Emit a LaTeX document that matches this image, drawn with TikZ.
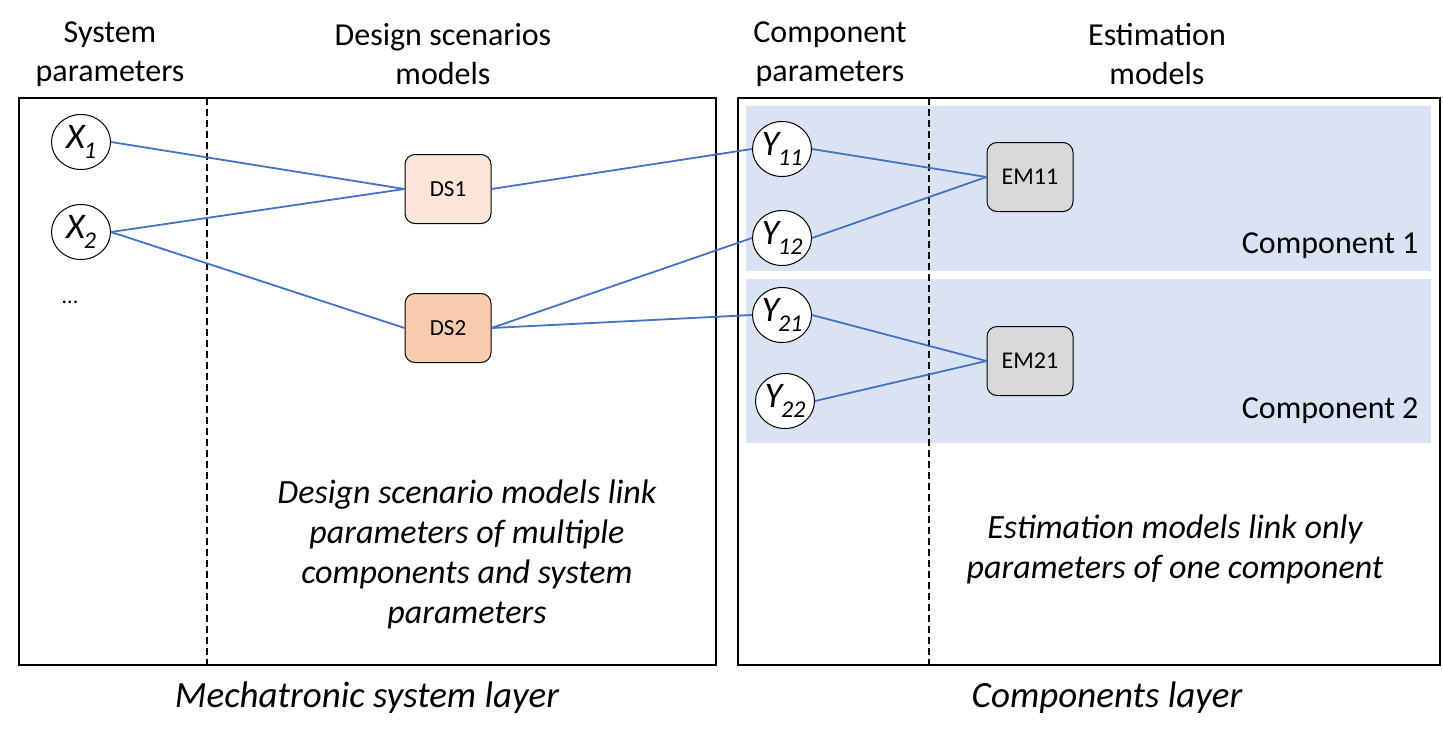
\documentclass[tikz,border=0pt]{standalone}
\usepackage{fontspec}
\setmainfont{Carlito}
\usetikzlibrary{shapes.geometric}
\definecolor{conn}{HTML}{4472C4}
\definecolor{compfill}{HTML}{DAE3F3}
\definecolor{dsa}{HTML}{FBE5D6}
\definecolor{dsb}{HTML}{F8CBAD}
\definecolor{emfill}{HTML}{D9D9D9}
\newcommand\pvar[2]{\fontsize{36}{36}\selectfont\itshape #1\kern-1pt\raisebox{-10pt}{\fontsize{24}{24}\selectfont\itshape #2}}
\begin{document}
\begin{tikzpicture}[x=1pt,y=-1pt,
  param/.style={ellipse, draw, fill=white, line width=1pt, minimum width=59pt, minimum height=55pt, inner sep=-6pt},
  modelbox/.style={rounded corners=10pt, draw, line width=1pt, minimum width=86pt, minimum height=69pt},
  dsfont/.style={font=\fontsize{23}{26}\selectfont},
  emfont/.style={font=\fontsize{24}{27}\selectfont},
  link/.style={conn, line width=1.8pt},
  layerbox/.style={draw, line width=1.5pt},
  sep/.style={draw, line width=1.8pt, dash pattern=on 7pt off 4pt},
  header/.style={align=center, font=\fontsize{32}{39}\selectfont},
  note/.style={align=center, font=\fontsize{34}{40}\selectfont\itshape},
  layerlabel/.style={font=\fontsize{37}{40}\selectfont\itshape},
  complabel/.style={font=\fontsize{32}{38}\selectfont, anchor=east}
]
\useasboundingbox (0,0) rectangle (1443,742);
% layer boxes
\path[layerbox] (19,98) rectangle (716,665);
\path[layerbox] (738,98) rectangle (1440,665);
% component areas
\fill[compfill] (746,106) rectangle (1431,271);
\fill[compfill] (746,279) rectangle (1431,443);
% separators
\coordinate (s1t) at (207,98); \coordinate (s1b) at (207,665);
\coordinate (s2t) at (929,98); \coordinate (s2b) at (929,665);
\path[sep] (s1t) -- (s1b);
\path[sep] (s2t) -- (s2b);
% headers
\node[header] (h1) at (110,54) {System\\parameters};
\node[header] (h2) at (443,54) {Design scenarios\\models};
\node[header] (h3) at (830,54) {Component\\parameters};
\node[header] (h4) at (1157,54) {Estimation\\models};
% nodes
\node[param] (x1) at (81,142) {\pvar{X}{1}};
\node[param] (x2) at (81,232) {\pvar{X}{2}};
\node[font=\fontsize{22}{22}\selectfont] (dots) at (70,302) {...};
\node[modelbox, fill=dsa, dsfont] (ds1) at (448,189) {DS1};
\node[modelbox, fill=dsb, dsfont] (ds2) at (448,328) {DS2};
\node[param] (y11) at (782,149) {\pvar{Y}{11}};
\node[param] (y12) at (782,238) {\pvar{Y}{12}};
\node[param] (y21) at (782,315) {\pvar{Y}{21}};
\node[param] (y22) at (785,401) {\pvar{Y}{22}};
\node[modelbox, fill=emfill, emfont] (em11) at (1030,177) {EM11};
\node[modelbox, fill=emfill, emfont] (em21) at (1030,361) {EM21};
\node[complabel] (c1) at (1422,246) {Component 1};
\node[complabel] (c2) at (1422,411) {Component 2};
% links
\draw[link] (x1.east) -- (ds1.west);
\draw[link] (x2.east) -- (ds1.west);
\draw[link] (x2.east) -- (ds2.west);
\draw[link] (ds1.east) -- (y11.west);
\draw[link] (ds2.east) -- (y12.west);
\draw[link] (ds2.east) -- (y21.west);
\draw[link] (y11.east) -- (em11.west);
\draw[link] (y12.east) -- (em11.west);
\draw[link] (y21.east) -- (em21.west);
\draw[link] (y22.east) -- (em21.west);
% notes
\node[note] (n1) at (467,554) {Design scenario models link\\parameters of multiple\\components and system\\parameters};
\node[note] (n2) at (1175,549) {Estimation models link only\\parameters of one component};
\node[layerlabel] (l1) at (367,698) {Mechatronic system layer};
\node[layerlabel] (l2) at (1107,698) {Components layer};
\end{tikzpicture}
\end{document}
